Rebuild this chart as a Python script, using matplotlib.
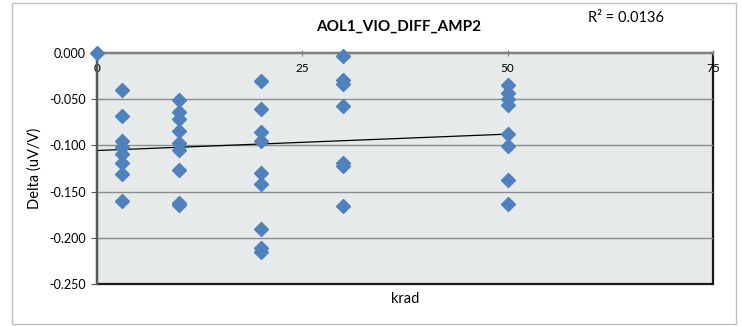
import numpy as np
import matplotlib
matplotlib.use('Agg')
import matplotlib.pyplot as plt
from matplotlib.patches import Rectangle

plt.rcParams['font.family'] = ['Lato', 'DejaVu Sans']

# Data (krad vs delta in uV/V)
krad = [0,
        3, 3, 3, 3, 3, 3, 3, 3,
        10, 10, 10, 10, 10, 10, 10, 10, 10,
        20, 20, 20, 20, 20, 20, 20, 20, 20,
        30, 30, 30, 30, 30, 30, 30,
        50, 50, 50, 50, 50, 50, 50, 50]
delta = [0.000,
         -0.040, -0.068, -0.095, -0.102, -0.109, -0.119, -0.131, -0.160,
         -0.051, -0.064, -0.071, -0.084, -0.097, -0.105, -0.127, -0.162, -0.165,
         -0.030, -0.061, -0.086, -0.095, -0.130, -0.142, -0.190, -0.211, -0.215,
         -0.003, -0.029, -0.033, -0.057, -0.119, -0.122, -0.166,
         -0.035, -0.043, -0.050, -0.056, -0.088, -0.101, -0.137, -0.163]
x_ticks = [0, 25, 50, 75]
y_ticks = [0.000, -0.050, -0.100, -0.150, -0.200, -0.250]
title = 'AOL1_VIO_DIFF_AMP2'
r2_text = 'R² = 0.0136'

fig = plt.figure(figsize=(7.42, 3.26), dpi=100)
fig.patches.append(Rectangle((0.016, 0.006), 0.976, 0.985, transform=fig.transFigure,
                             fill=False, edgecolor='#bfbfbf', linewidth=1))

ax = fig.add_axes([0.1307, 0.1288, 0.8302, 0.7086])
ax.set_facecolor('#e6eaea')
ax.patch.set_edgecolor('#1a1a1a')
ax.patch.set_linewidth(1.6)

ax.set_xlim(0, 75)
ax.set_ylim(-0.25, 0)

# gridlines
for yt in y_ticks[1:-1]:
    ax.axhline(yt, color='#8c8c8c', linewidth=1, zorder=1)

# linear trendline over the data range
coef = np.polyfit(krad, delta, 1)
xs = np.array([min(krad), max(krad)])
ax.plot(xs, np.polyval(coef, xs), color='black', linewidth=0.9, zorder=2)

ax.plot(krad, delta, linestyle='none', marker='D', markersize=7,
        color='#4f81bd', markeredgecolor='#4f81bd', zorder=3, clip_on=False)

# axis crosses at y = 0 like in Excel
for s in ['top', 'right']:
    ax.spines[s].set_visible(False)
ax.spines['bottom'].set_position(('data', 0))
ax.spines['bottom'].set_color('#7f7f7f')
ax.spines['bottom'].set_linewidth(1.6)
ax.spines['left'].set_color('#595959')
ax.spines['left'].set_linewidth(1.6)

ax.set_xticks(x_ticks)
ax.set_xticklabels([str(v) for v in x_ticks])
ax.set_yticks(y_ticks)
ax.set_yticklabels(['%.3f' % v for v in y_ticks])
ax.tick_params(axis='x', direction='inout', length=4, color='#7f7f7f', labelsize=8.5, pad=5)
ax.tick_params(axis='y', direction='out', length=4, color='#595959', labelsize=9, pad=4)

ax.set_xlabel('krad', fontsize=10.5)
ax.xaxis.set_label_coords(0.5, -0.035)
ax.xaxis.label.set_verticalalignment('top')
ax.set_ylabel('Delta (uV/V)', fontsize=10.5)
ax.yaxis.set_label_coords(-0.089, 0.5)

fig.text(0.537, 0.917, title, ha='center', va='center', fontsize=11, fontweight='bold')
fig.text(0.843, 0.946, r2_text, ha='center', va='center', fontsize=10.5)

fig.savefig('out.png', dpi=100)
